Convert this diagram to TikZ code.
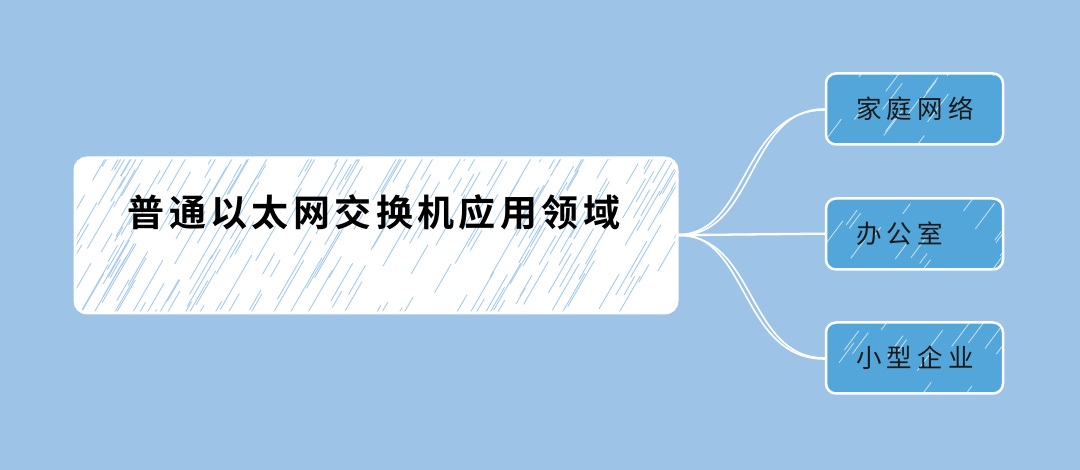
\documentclass[tikz,border=0pt]{standalone}
\usepackage{fontspec}
\newfontfamily\cjk{Noto Sans CJK SC}[BoldFont={Noto Sans CJK SC Bold}]
\definecolor{bgblue}{HTML}{9DC3E6}
\definecolor{childblue}{HTML}{53A6D9}
\definecolor{hatchblue}{HTML}{A6CBEB}
\tikzset{
  mainbox/.style={draw=white, line width=3pt, fill=white, rounded corners=12pt,
    inner sep=0pt, minimum width=602pt, minimum height=155pt},
  childbox/.style={draw=white, line width=2.5pt, fill=childblue, rounded corners=10pt,
    inner sep=0pt, minimum width=177pt, minimum height=71pt},
  maintext/.style={inner sep=0pt, font=\cjk\bfseries\fontsize{37pt}{39pt}\selectfont, text=black},
  childtext/.style={inner sep=0pt, font=\cjk\fontsize{25.5pt}{27pt}\selectfont, text=black!90},
  hatchmain/.style={draw=hatchblue, line width=0.9pt},
  hatchchild/.style={draw=white!70!childblue, line width=0.8pt},
  conn/.style={draw=white, line width=1.6pt},
}
\newcommand\gapA{\kern4.4pt}
\newcommand\gapB{\kern5.2pt}
\begin{document}
\begin{tikzpicture}[x=1pt,y=-1pt]
\fill[bgblue] (0,0) rectangle (1080,470);
\useasboundingbox (0,0) rectangle (1080,470);
\pgfmathsetseed{7}
% main box with hatching
\node[mainbox, path picture={
  \foreach \i in {1,...,260}{
    \pgfmathsetmacro\sx{rnd*700-60}
    \pgfmathsetmacro\sy{rnd*190}
    \pgfmathsetmacro\len{15+rnd*55}
    \draw[hatchmain] ([shift={(\sx,\sy)}]path picture bounding box.north west) -- ++({0.5*\len},{-0.866*\len});
  }}] (main) at (376,235.5) {};
\node[maintext] (mt) at (374,212) {普\gapA 通\gapA 以\gapA 太\gapA 网\gapA 交\gapA 换\gapA 机\gapA 应\gapA 用\gapA 领\gapA 域};
% child boxes
\foreach \n/\y in {c1/109, c2/234, c3/358}{
  \node[childbox, path picture={
    \foreach \i in {1,...,16}{
      \pgfmathsetmacro\sx{rnd*200-20}
      \pgfmathsetmacro\sy{rnd*80}
      \pgfmathsetmacro\len{10+rnd*25}
      \draw[hatchchild] ([shift={(\sx,\sy)}]path picture bounding box.north west) -- ++({0.6*\len},{-0.8*\len});
    }}] (\n) at (914.5,\y) {};
}
\node[childtext, anchor=west] (t1) at (856,109) {家\gapB 庭\gapB 网\gapB 络};
\node[childtext, anchor=west] (t2) at (856,234) {办\gapB 公\gapB 室};
\node[childtext, anchor=west] (t3) at (856,358) {小\gapB 型\gapB 企\gapB 业};
% connectors (double strands)
\foreach \n in {c1,c3}{
  \draw[conn] (main.east) .. controls +(78,0) and +(-78,0) .. (\n.west);
  \draw[conn] ([yshift=1pt]main.east) .. controls +(70,0) and +(-84,0) .. ([yshift=-1pt]\n.west);
}
\draw[conn] (main.east) -- (c2.west);
\draw[conn, line width=1pt] ([yshift=1pt]main.east) -- ([yshift=1pt]c2.west);
\end{tikzpicture}
\end{document}
